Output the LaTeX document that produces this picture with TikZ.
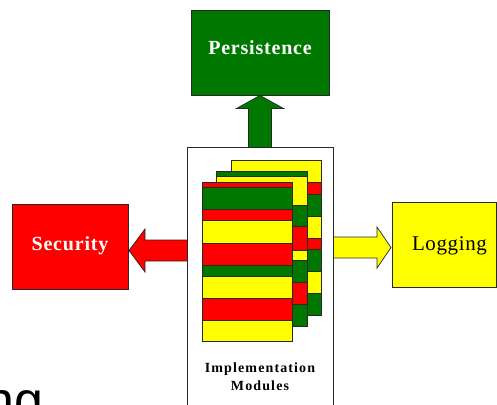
\documentclass[tikz,border=0pt]{standalone}
\usepackage{fontspec}
\setmainfont{Liberation Serif}
\newfontfamily\labelserif{Liberation Serif}
\newfontfamily\titlesans{Liberation Sans}
\usetikzlibrary{calc}

\definecolor{pgreen}{RGB}{0,120,0}
\definecolor{pred}{RGB}{255,0,0}
\definecolor{pyellow}{RGB}{255,255,0}
\definecolor{edgegray}{RGB}{40,40,40}

\tikzset{
  concern/.style={draw=edgegray, line width=0.9pt, minimum width=#1, inner sep=0pt},
  blockarrow/.style={draw=edgegray, line width=0.7pt, line join=miter},
  stripe/.style={draw=edgegray, line width=0.8pt},
  boldlabel/.style={font=\labelserif\fontsize{20}{22}\selectfont\bfseries\addfontfeature{LetterSpace=4}, text=white, inner sep=0pt},
  modlabel/.style={font=\labelserif\fontsize{14}{16}\selectfont\bfseries\addfontfeature{LetterSpace=8}, inner sep=0pt, anchor=base},
}

\begin{document}
\begin{tikzpicture}[x=1pt, y=-1pt]
  \useasboundingbox (0,0) rectangle (497,404);
  \fill[white] (0,0) rectangle (497,404);

  % the concern boxes around the module stack
  \node[concern=138pt, minimum height=85pt, fill=pgreen] (pers) at (260,52.5) {};
  \node[boldlabel] (perstext) at ($(pers.center)+(0,-5)$) {Persistence};

  \node[concern=116pt, minimum height=85pt, fill=pred] (sec) at (70,246.5) {};
  \node[boldlabel] (sectext) at ($(sec.center)+(0,-1)$) {Security};

  \node[concern=104pt, minimum height=85pt, fill=pyellow] (log) at (444,244.5) {};
  \node[inner sep=0pt, font=\labelserif\fontsize{21}{23}\selectfont\addfontfeature{LetterSpace=3}] (logtext) at (449.5,245.5) {Logging};

  % block arrows leaving the module box
  \coordinate (rtip) at (129,250.5);
  \coordinate (ytip) at (391,247.5);
  \coordinate (mleft) at (187,250.5);
  \coordinate (mright) at (333,247.5);
  \coordinate (mtop) at (260,147);

  \draw[blockarrow, fill=pgreen]
    ($(mtop)+(-11.5,0)$) -- ($(pers.south)+(-11.5,13)$) -- ($(pers.south)+(-23.5,13)$)
    -- (pers.south) -- ($(pers.south)+(23.5,13)$) -- ($(pers.south)+(11.5,13)$)
    -- ($(mtop)+(11.5,0)$);
  \draw[blockarrow, fill=pred]
    ($(mleft)+(0,-10.5)$) -- ($(rtip)+(16,-10.5)$) -- ($(rtip)+(16,-21.5)$)
    -- (rtip) -- ($(rtip)+(16,21.5)$) -- ($(rtip)+(16,10.5)$)
    -- ($(mleft)+(0,10.5)$);
  \draw[blockarrow, fill=pyellow]
    ($(mright)+(0,-10.5)$) -- ($(ytip)+(-14,-10.5)$) -- ($(ytip)+(-14,-20.5)$)
    -- (ytip) -- ($(ytip)+(-14,20.5)$) -- ($(ytip)+(-14,10.5)$)
    -- ($(mright)+(0,10.5)$);

  % module box
  \node[concern=146pt, minimum height=283pt, fill=white] (impl) at (260,288.5) {};

  % back page
  \foreach \a/\b/\c in {160.7/182.7/pyellow, 182.7/194/pred, 194/216/pgreen,
      216/238.3/pyellow, 238.3/249.3/pred, 249.3/271.7/pgreen,
      271.7/293.3/pyellow, 293.3/315/pgreen}
    \draw[stripe, fill=\c] (231,\a) rectangle (321,\b);
  % middle page
  \foreach \a/\b/\c in {171.7/176/pgreen, 176/205/pyellow, 205/226.7/pgreen,
      226.7/250/pred, 250/260.7/pyellow, 260.7/282.7/pgreen,
      282.7/304.3/pred, 304.3/326/pgreen}
    \draw[stripe, fill=\c] (216,\a) rectangle (307,\b);
  % front page
  \foreach \a/\b/\c in {182.3/187.3/pred, 187.3/209/pgreen, 209/220/pred,
      220/243.3/pyellow, 243.3/265/pred, 265/276/pgreen,
      276/298.3/pyellow, 298.3/320/pred, 320/341.7/pyellow}
    \draw[stripe, fill=\c] (202,\a) rectangle (292,\b);

  \node[modlabel] (impltext) at (260,372) {Implementation};
  \node[modlabel] (modtext) at (260,390) {Modules};

  % tail of a heading cut by the lower edge
  \node[inner sep=0pt, anchor=base west, font=\titlesans\fontsize{52}{56}\selectfont] (heading) at (-14.4,418) {ng};
\end{tikzpicture}
\end{document}
